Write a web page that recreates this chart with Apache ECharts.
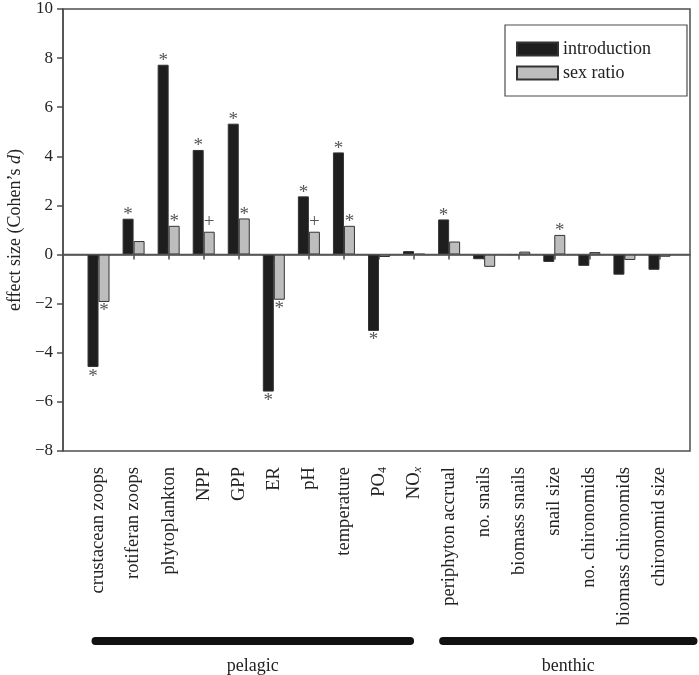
<!DOCTYPE html>
<html>
<head>
<meta charset="utf-8">
<script src="https://cdn.jsdelivr.net/npm/echarts@6/dist/echarts.min.js"></script>
<style>
html,body{margin:0;padding:0;background:#fff;}
#chart{width:699px;height:675px;}
</style>
</head>
<body>
<div id="chart"></div>
<script>
const categories = ['crustacean zoops','rotiferan zoops','phytoplankton','NPP','GPP','ER','pH','temperature','PO4','NOx','periphyton accrual','no. snails','biomass snails','snail size','no. chironomids','biomass chironomids','chironomid size'];
const introduction = [-4.58, 1.46, 7.73, 4.26, 5.33, -5.58, 2.37, 4.16, -3.11, 0.14, 1.43, -0.19, 0.0, -0.30, -0.46, -0.82, -0.62];
const sexRatio = [-1.93, 0.55, 1.17, 0.93, 1.47, -1.84, 0.93, 1.17, -0.10, 0.03, 0.53, -0.50, 0.12, 0.80, 0.10, -0.22, -0.09];
const introSig = ['*','*','*','*','*','*','*','*','*','','*','','','','','',''];
const sexSig = ['*','','*','+','*','*','+','*','','','','','','*','','',''];
const yTicks = [-8,-6,-4,-2,0,2,4,6,8,10];
const groupNames = ['pelagic','benthic'];
const groupFirst = [0, 10];
const groupLast = [9, 16];

const FONT = '"Liberation Serif", "DejaVu Serif", serif';
const TXT = '#222';

function itemsFor(vals, sig){
  return vals.map((v,i)=>{
    const s = sig[i];
    const up = v >= 0;
    let dist;
    if (s === '+') dist = up ? 0 : 2;
    else dist = up ? -6 : 0;
    return {value: v, label: {position: up ? 'top' : 'bottom', distance: dist}};
  });
}

const chart = echarts.init(document.getElementById('chart'), null, {renderer:'canvas'});
const option = {
  animation: false,
  backgroundColor: '#fff',
  textStyle: {fontFamily: FONT, color: TXT},
  grid: [
    {left: 63, right: 9, top: 9, bottom: 224, outerBoundsMode: 'none', containLabel: false, show: true, borderColor: '#4d4d4d', borderWidth: 1.5, backgroundColor: 'transparent'},
    {left: 81, right: 22, top: 9, bottom: 224, outerBoundsMode: 'none', containLabel: false}
  ],
  xAxis: [
    {gridIndex: 0, type: 'value', min: 0, max: 1, axisLine: {show: true, lineStyle: {color: '#4d4d4d', width: 1.5}}, axisTick: {show: false}, axisLabel: {show: false}, splitLine: {show: false}},
    {gridIndex: 1, type: 'category', data: categories,
     axisLine: {show: false},
     axisTick: {show: true, alignWithLabel: true, length: 5, lineStyle: {color: '#4d4d4d', width: 1.5}},
     axisLabel: {rotate: 90, margin: 16, fontSize: 18.6, fontFamily: FONT, color: TXT, interval: 0,
       formatter: function(v){
         if (v === 'PO4') return 'PO{sub|4}';
         if (v === 'NOx') return 'NO{subi|x}';
         return v;
       },
       rich: {
         sub: {fontSize: 12, fontFamily: FONT, color: TXT, verticalAlign: 'bottom', padding: [6,0,0,0]},
         subi: {fontSize: 12, fontFamily: FONT, fontStyle: 'italic', color: TXT, verticalAlign: 'bottom', padding: [6,0,0,0]}
       }
     },
     splitLine: {show: false}}
  ],
  yAxis: [
    {gridIndex: 0, type: 'value', min: yTicks[0], max: yTicks[yTicks.length-1], interval: 2,
     axisLine: {show: true, lineStyle: {color: '#4d4d4d', width: 1.5}},
     axisTick: {show: true, inside: false, length: 6, lineStyle: {color: '#4d4d4d', width: 1.5}},
     axisLabel: {fontSize: 17, fontFamily: FONT, color: TXT, margin: 10, formatter: v => String(v).replace('-', '\u2212')},
     splitLine: {show: false},
     name: "effect size (Cohen\u2019s {i|d})",
     nameLocation: 'middle', nameGap: 39, nameRotate: 90,
     nameTextStyle: {fontSize: 18, fontFamily: FONT, color: TXT, rich: {i: {fontSize: 18, fontFamily: FONT, fontStyle: 'italic', color: TXT}}}
    },
    {gridIndex: 1, type: 'value', min: yTicks[0], max: yTicks[yTicks.length-1], interval: 2, show: false, splitLine: {show: false}}
  ],
  legend: {
    orient: 'vertical', left: 505, top: 25,
    data: ['introduction','sex ratio'],
    itemWidth: 41, itemHeight: 13, itemGap: 6,
    borderColor: '#4d4d4d', borderWidth: 1.2,
    padding: [15, 36, 14, 11],
    textStyle: {fontSize: 18, fontFamily: FONT, color: TXT},
    icon: 'rect', selectedMode: false
  },
  series: [
    {name: 'introduction', type: 'bar', xAxisIndex: 1, yAxisIndex: 1, barWidth: 11, barGap: '0%',
     itemStyle: {color: '#1e1e1e', borderColor: '#333', borderWidth: 1},
     label: {show: true, fontSize: 19, fontFamily: FONT, color: '#555', formatter: p => introSig[p.dataIndex]},
     data: itemsFor(introduction, introSig)},
    {name: 'sex ratio', type: 'bar', xAxisIndex: 1, yAxisIndex: 1, barWidth: 11, barGap: '0%',
     itemStyle: {color: '#bdbdbd', borderColor: '#333', borderWidth: 1},
     label: {show: true, fontSize: 19, fontFamily: FONT, color: '#555', formatter: p => sexSig[p.dataIndex]},
     data: itemsFor(sexRatio, sexSig)},
    {name: 'zero', type: 'line', xAxisIndex: 0, yAxisIndex: 0, symbol: 'none', silent: true, z: 5,
     lineStyle: {color: '#555', width: 1.5}, data: [[0,0],[1,0]]}
  ]
};
chart.setOption(option);

// group brackets below the category labels, placed from category positions
const graphics = [];
groupNames.forEach((g, k) => {
  const x0 = chart.convertToPixel({xAxisIndex: 1}, categories[groupFirst[k]]);
  const x1 = chart.convertToPixel({xAxisIndex: 1}, categories[groupLast[k]]);
  const last = groupLast[k] === categories.length - 1;
  const a = x0 - (k === 0 ? 3 : 6);
  const b = last ? x1 + 34 : x1 - 4;
  graphics.push({type: 'line', shape: {x1: a, y1: 641, x2: b, y2: 641},
    style: {stroke: '#111', lineWidth: 8, lineCap: 'round'}});
  graphics.push({type: 'text', x: (a + b) / 2, y: 666,
    style: {text: g, font: '18px ' + FONT, fill: TXT, textAlign: 'center', textVerticalAlign: 'middle'}});
});
chart.setOption({graphic: graphics});
</script>
</body>
</html>
